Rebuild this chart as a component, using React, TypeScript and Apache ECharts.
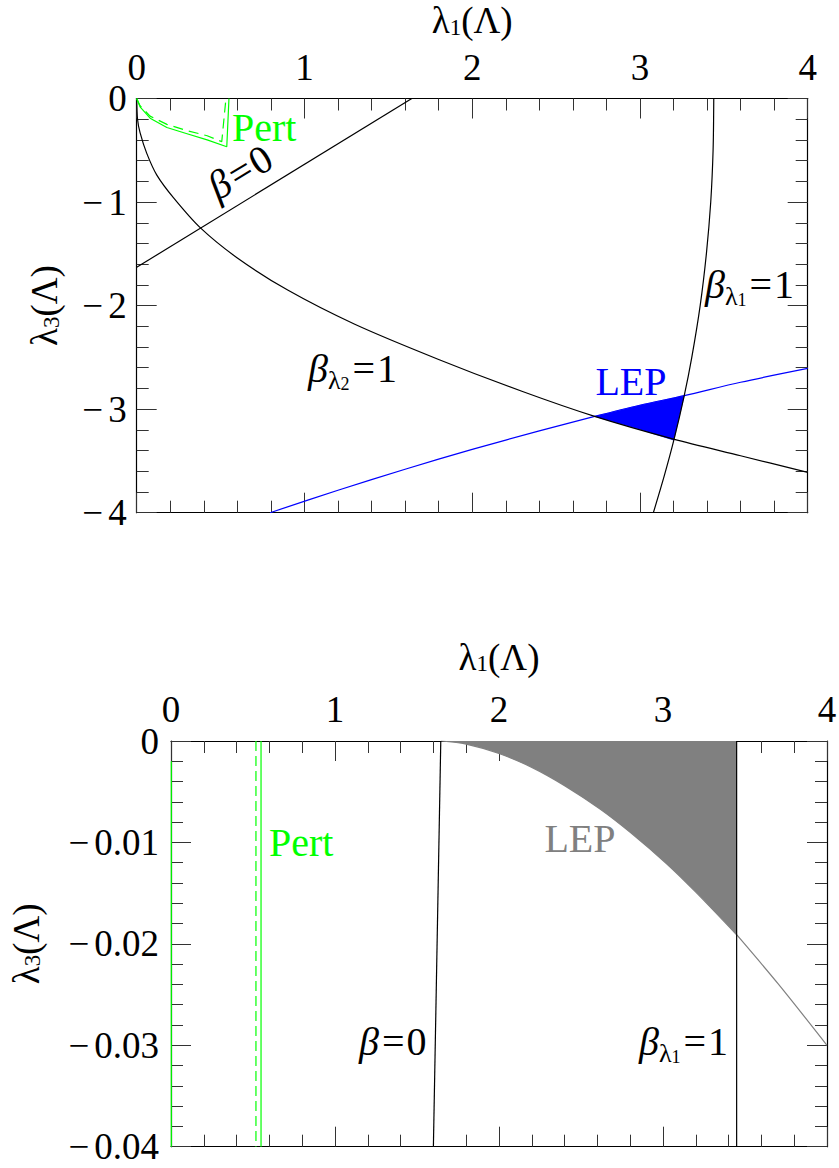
import React, { useEffect, useRef } from 'react';
import * as echarts from 'echarts';

const FONT = "'Liberation Serif', 'DejaVu Serif', serif";

// ---------- Top panel data ----------
const topXMin = 0, topXMax = 4, topYMin = -4, topYMax = 0;
const pertSolidX = [0, 0.02, 0.08, 0.18, 0.3, 0.42, 0.537, 0.55];
const pertSolidY = [0, -0.08, -0.19, -0.28, -0.34, -0.40, -0.466, 0];
const pertDashedX = [0, 0.02, 0.08, 0.18, 0.3, 0.42, 0.507, 0.532];
const pertDashedY = [0, -0.07, -0.17, -0.25, -0.31, -0.36, -0.417, 0];
const beta0TopX = [0, 1.64];
const beta0TopY = [-1.63, 0];
const betaL2X = [0, 0.005, 0.02, 0.06, 0.12, 0.22, 0.38, 0.6, 0.9, 1.3, 1.8, 2.3, 2.73, 3.2, 3.6, 4];
const betaL2Y = [0, -0.2, -0.33, -0.53, -0.74, -0.96, -1.25, -1.54, -1.85, -2.18, -2.52, -2.83, -3.07, -3.29, -3.45, -3.61];
const betaL1TopX = [3.44, 3.436, 3.422, 3.396, 3.359, 3.309, 3.264, 3.202, 3.144, 3.08];
const betaL1TopY = [0, -0.5, -1.0, -1.5, -2.0, -2.5, -2.87, -3.3, -3.65, -4.0];
const lepBlueX = [0.795, 1.2, 1.6, 2.0, 2.4, 2.73, 3.0, 3.264, 3.6, 4.0];
const lepBlueY = [-4.0, -3.783, -3.58, -3.389, -3.21, -3.07, -2.962, -2.87, -2.74, -2.607];
const lepTopFillX = [2.73, 3.0, 3.264, 3.202, 3.0];
const lepTopFillY = [-3.07, -2.962, -2.87, -3.3, -3.196];

// ---------- Bottom panel data ----------
const botXMin = 0, botXMax = 4, botYMin = -0.04, botYMax = 0;
const pertEdgeX = [0.002, 0.002];
const pertEdgeY = [-0.002, -0.04];
const pertDashBotX = [0.518, 0.518];
const pertDashBotY = [0, -0.04];
const pertSolidBotX = [0.549, 0.549];
const pertSolidBotY = [0, -0.04];
const beta0BotX = [1.645, 1.6];
const beta0BotY = [0, -0.04];
const betaL1BotX = [3.449, 3.449];
const betaL1BotY = [0, -0.04];
const lepCurveX = [1.646, 1.8, 2.0, 2.2, 2.4, 2.616, 2.8, 3.022, 3.2, 3.449, 3.7, 4.0];
const lepCurveY = [0, -0.0003, -0.00123, -0.0026, -0.0044, -0.0067, -0.009, -0.0121, -0.0149, -0.0191, -0.0239, -0.03];
const lepFillEndX = 3.449;

const zip = (xs: number[], ys: number[]) => xs.map((x, i) => [x, ys[i]]);

const GREEN = '#00ff00';
const BLUE = '#0000ff';
const GRAY = '#808080';
const LABEL_SIZE = 40;

function lineS(xs: number[], ys: number[], gi: number, color: string, extra: any = {}) {
  return {
    type: 'line',
    data: zip(xs, ys),
    xAxisIndex: gi * 2,
    yAxisIndex: gi * 2,
    showSymbol: false,
    symbol: 'none',
    silent: true,
    smooth: extra.smooth || false,
    z: 5,
    lineStyle: { color, width: 1.2, type: extra.dash || 'solid' },
  };
}

function axisBase(gridIndex: number, pos: string, showLabel: boolean, min: number, max: number, interval: number, fmt?: any, margin = 13) {
  return {
    type: 'value',
    gridIndex,
    position: pos,
    min,
    max,
    interval,
    axisLine: { show: true, onZero: false, lineStyle: { color: '#000', width: 1.2 } },
    axisTick: { show: true, inside: true, length: 20, lineStyle: { color: '#333', width: 1 } },
    minorTick: { show: true, splitNumber: 5, length: 12, lineStyle: { color: '#333', width: 1 } },
    splitLine: { show: false },
    minorSplitLine: { show: false },
    axisLabel: {
      show: showLabel,
      fontFamily: FONT,
      fontSize: 37,
      color: '#000',
      margin,
      formatter: fmt,
      rich: {
        m: { fontFamily: FONT, fontSize: 37, color: '#000', padding: [0, 5, 0, 0] },
        v: { fontFamily: FONT, fontSize: 37, color: '#000' },
      },
    },
  };
}

const nameRich = {
  m: { fontFamily: FONT, fontSize: 37, color: '#000', lineHeight: 36 },
  s: { fontFamily: FONT, fontSize: 23, color: '#000', lineHeight: 18, verticalAlign: 'bottom' },
};

const xFmt = (v: number) => String(Math.round(v));
const yFmtTop = (v: number) => (Math.abs(v) < 1e-9 ? '{v|0}' : '{m|\u2212}{v|' + Math.abs(Math.round(v)) + '}');
const yFmtBot = (v: number) => (Math.abs(v) < 1e-9 ? '{v|0}' : '{m|\u2212}{v|' + Math.abs(v).toFixed(2) + '}');

function betaRich(sub: string, color = '#000') {
  return {
    text: `{b|β}{l|λ}{n|${sub}}{e|=}{t|1}`,
    rich: {
      b: { fontFamily: FONT, fontStyle: 'italic', fontSize: LABEL_SIZE, lineHeight: 50, fill: color },
      l: { fontFamily: FONT, fontSize: 26, lineHeight: 32, verticalAlign: 'bottom', fill: color },
      n: { fontFamily: FONT, fontSize: 18, lineHeight: 16, verticalAlign: 'bottom', fill: color, padding: [0, 3, 0, 0] },
      e: { fontFamily: FONT, fontSize: LABEL_SIZE, lineHeight: 50, fill: color, padding: [0, 2, 0, 0] },
      t: { fontFamily: FONT, fontSize: LABEL_SIZE, lineHeight: 50, fill: color },
    },
  };
}

function beta0Rich() {
  return {
    text: '{b|β}{e|=}{t|0}',
    rich: {
      b: { fontFamily: FONT, fontStyle: 'italic', fontSize: LABEL_SIZE, lineHeight: 50, padding: [0, 3, 0, 0] },
      e: { fontFamily: FONT, fontSize: LABEL_SIZE, lineHeight: 50, padding: [0, 2, 0, 0] },
      t: { fontFamily: FONT, fontSize: LABEL_SIZE, lineHeight: 50 },
    },
  };
}

export default function App() {
  const ref = useRef<HTMLDivElement>(null);
  useEffect(() => {
    if (!ref.current) return;
    const chart = echarts.init(ref.current, undefined, { renderer: 'svg' });

    const lepFillPts = lepCurveX
      .map((x, i) => [x, lepCurveY[i]])
      .filter((p) => p[0] <= lepFillEndX + 1e-9);
    const lepTailPts = lepCurveX
      .map((x, i) => [x, lepCurveY[i]])
      .filter((p) => p[0] >= lepFillEndX - 1e-9);

    const option: any = {
      animation: false,
      backgroundColor: '#fff',
      grid: [
        { left: 136.7, top: 98.5, width: 671, height: 414.2, outerBoundsMode: 'none', containLabel: false },
        { left: 171, top: 741, width: 656, height: 405.7, outerBoundsMode: 'none', containLabel: false },
      ],
      xAxis: [
        {
          ...axisBase(0, 'top', true, topXMin, topXMax, 1, xFmt),
          name: '{m|λ}{s|1}{m|(Λ)}',
          nameLocation: 'middle',
          nameGap: 60,
          nameTextStyle: { rich: nameRich },
        },
        axisBase(0, 'bottom', false, topXMin, topXMax, 1),
        {
          ...axisBase(1, 'top', true, botXMin, botXMax, 1, xFmt),
          name: '{m|λ}{s|1}{m|(Λ)}',
          nameLocation: 'middle',
          nameGap: 66,
          nameTextStyle: { rich: nameRich },
        },
        axisBase(1, 'bottom', false, botXMin, botXMax, 1),
      ],
      yAxis: [
        {
          ...axisBase(0, 'left', true, topYMin, topYMax, 1, yFmtTop, 10),
          name: '{m|λ}{s|3}{m|(Λ)}',
          nameLocation: 'middle',
          nameGap: 74,
          nameTextStyle: { rich: nameRich },
        },
        axisBase(0, 'right', false, topYMin, topYMax, 1),
        {
          ...axisBase(1, 'left', true, botYMin, botYMax, 0.01, yFmtBot, 12),
          name: '{m|λ}{s|3}{m|(Λ)}',
          nameLocation: 'middle',
          nameGap: 127,
          nameTextStyle: { rich: nameRich },
        },
        axisBase(1, 'right', false, botYMin, botYMax, 0.01),
      ],
      series: [
        // top panel
        {
          type: 'custom',
          xAxisIndex: 0,
          yAxisIndex: 0,
          silent: true,
          z: 3,
          clip: true,
          data: zip(lepTopFillX, lepTopFillY),
          renderItem: (params: any, api: any) => {
            if (params.dataIndex !== 0) return null;
            const pts = lepTopFillX.map((x, i) => api.coord([x, lepTopFillY[i]]));
            return { type: 'polygon', shape: { points: pts }, style: { fill: BLUE, stroke: BLUE, lineWidth: 0.5 } };
          },
        },
        lineS(lepBlueX, lepBlueY, 0, BLUE, { smooth: 0.3 }),
        lineS(beta0TopX, beta0TopY, 0, '#000'),
        lineS(betaL2X, betaL2Y, 0, '#000', { smooth: 0.3 }),
        lineS(betaL1TopX, betaL1TopY, 0, '#000', { smooth: 0.3 }),
        lineS(pertSolidX, pertSolidY, 0, GREEN),
        lineS(pertDashedX, pertDashedY, 0, GREEN, { dash: [10, 6] }),
        // bottom panel
        {
          type: 'line',
          xAxisIndex: 2,
          yAxisIndex: 2,
          data: lepFillPts,
          showSymbol: false,
          symbol: 'none',
          silent: true,
          smooth: 0.3,
          z: 3,
          lineStyle: { color: GRAY, width: 1.2 },
          areaStyle: { color: GRAY, opacity: 1, origin: 'end' },
        },
        {
          type: 'line',
          xAxisIndex: 2,
          yAxisIndex: 2,
          data: lepTailPts,
          showSymbol: false,
          symbol: 'none',
          silent: true,
          smooth: 0.3,
          z: 4,
          lineStyle: { color: GRAY, width: 1.2 },
        },
        lineS(pertEdgeX, pertEdgeY, 1, GREEN),
        lineS(pertDashBotX, pertDashBotY, 1, GREEN, { dash: [10, 5] }),
        lineS(pertSolidBotX, pertSolidBotY, 1, GREEN),
        lineS(beta0BotX, beta0BotY, 1, '#000'),
        lineS(betaL1BotX, betaL1BotY, 1, '#000'),
      ],
      graphic: [
        // top labels
        { type: 'text', x: 232, y: 127, z: 10, style: { text: 'Pert', fill: GREEN, fontFamily: FONT, fontSize: LABEL_SIZE, align: 'left', verticalAlign: 'middle' } },
        { type: 'text', x: 240, y: 172, rotation: 0.54, z: 10, style: { ...beta0Rich(), align: 'center', verticalAlign: 'middle' } },
        { type: 'text', x: 308, y: 368, z: 10, style: { ...betaRich('2'), align: 'left', verticalAlign: 'middle' } },
        { type: 'text', x: 705, y: 284, z: 10, style: { ...betaRich('1'), align: 'left', verticalAlign: 'middle' } },
        { type: 'text', x: 631, y: 381, z: 10, style: { text: 'LEP', fill: BLUE, fontFamily: FONT, fontSize: LABEL_SIZE, align: 'center', verticalAlign: 'middle' } },
        // bottom labels
        { type: 'text', x: 269, y: 842, z: 10, style: { text: 'Pert', fill: GREEN, fontFamily: FONT, fontSize: LABEL_SIZE, align: 'left', verticalAlign: 'middle' } },
        { type: 'text', x: 580, y: 838, z: 10, style: { text: 'LEP', fill: GRAY, fontFamily: FONT, fontSize: LABEL_SIZE, align: 'center', verticalAlign: 'middle' } },
        { type: 'text', x: 359, y: 1041, z: 10, style: { ...beta0Rich(), align: 'left', verticalAlign: 'middle' } },
        { type: 'text', x: 639, y: 1041, z: 10, style: { ...betaRich('1'), align: 'left', verticalAlign: 'middle' } },
      ],
    };
    chart.setOption(option);
    return () => chart.dispose();
  }, []);
  return (
    <div
      ref={ref}
      style={{ position: 'absolute', left: 0, top: 0, width: 839, height: 1168, background: '#fff' }}
    />
  );
}
